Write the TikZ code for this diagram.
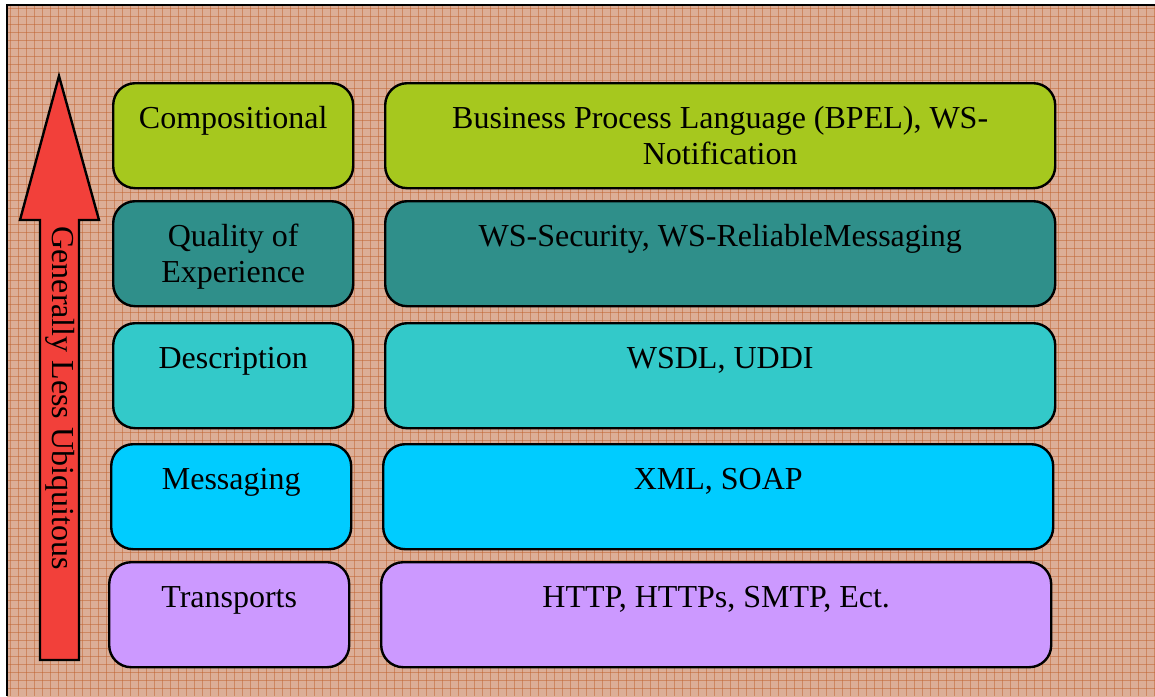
\documentclass[tikz,border=0pt]{standalone}
\usepackage{fontspec}
\setmainfont{Liberation Serif}
\definecolor{bgc}{HTML}{DCAE97}
\definecolor{gridc}{HTML}{C0612E}
\definecolor{compc}{HTML}{A6C81E}
\definecolor{qoec}{HTML}{2F8F8A}
\definecolor{descc}{HTML}{33C9C9}
\definecolor{msgc}{HTML}{00CCFF}
\definecolor{trc}{HTML}{CC99FF}
\definecolor{arrc}{HTML}{F2403A}
\tikzset{
  layerbox/.style={draw=black, line width=2.4pt, rounded corners=22pt, inner sep=0pt, anchor=north west},
  layertext/.style={anchor=base, align=center, font=\fontsize{32}{36}\selectfont, inner sep=0pt},
}
\begin{document}
\begin{tikzpicture}[x=1pt,y=-1pt]
\useasboundingbox (0,0) rectangle (1155,696);
\fill[white] (0,0) rectangle (1155,696);
\fill[bgc] (7,5) rectangle (1155,696);
\begin{scope}
\clip (7,5) rectangle (1155,696);
\foreach \x in {10,18,...,1155} \draw[gridc, line width=0.8pt, opacity=0.5] (\x,5) -- (\x,696);
\foreach \y in {8,16,...,696} \draw[gridc, line width=0.8pt, opacity=0.5] (7,\y) -- (1155,\y);
\end{scope}
\draw[black, line width=2pt] (7,696) -- (7,5) -- (1155,5);

% arrow
\draw[fill=arrc, line width=2.4pt, line join=miter] (59,76) -- (99,220) -- (79,220) -- (79,660) -- (40,660) -- (40,220) -- (20,220) -- cycle;
\node[rotate=-90, font=\fontsize{32}{36}\selectfont, inner sep=0pt] (arrlabel) at (60,398) {Generally Less Ubiquitous};

% rows: name/colour/top/left x/right x/left text/left shift/right text/right shift
\foreach \name/\col/\top/\lx/\rx/\ltext/\ls/\rtext/\rs in {
  comp/compc/82/112/384/{Compositional}/46/{Business Process Language (BPEL), WS-\\Notification}/82,
  qoe/qoec/200/112/384/{Quality of\\Experience}/82/{WS-Security, WS-ReliableMessaging}/46,
  desc/descc/322/112/384/{Description}/46/{WSDL, UDDI}/46,
  msg/msgc/443/110/382/{Messaging}/46/{XML, SOAP}/46,
  tr/trc/561/108/380/{Transports}/46/{HTTP, HTTPs, SMTP, Ect.}/46} {
  \node[layerbox, fill=\col, minimum width=240pt, minimum height=105pt] (\name L) at (\lx,\top) {};
  \node[layerbox, fill=\col, minimum width=670pt, minimum height=105pt] (\name R) at (\rx,\top) {};
  \node[layertext] (\name Lt) at ([yshift=-\ls pt]\name L.north) {\ltext};
  \node[layertext] (\name Rt) at ([yshift=-\rs pt]\name R.north) {\rtext};
}
\end{tikzpicture}
\end{document}
